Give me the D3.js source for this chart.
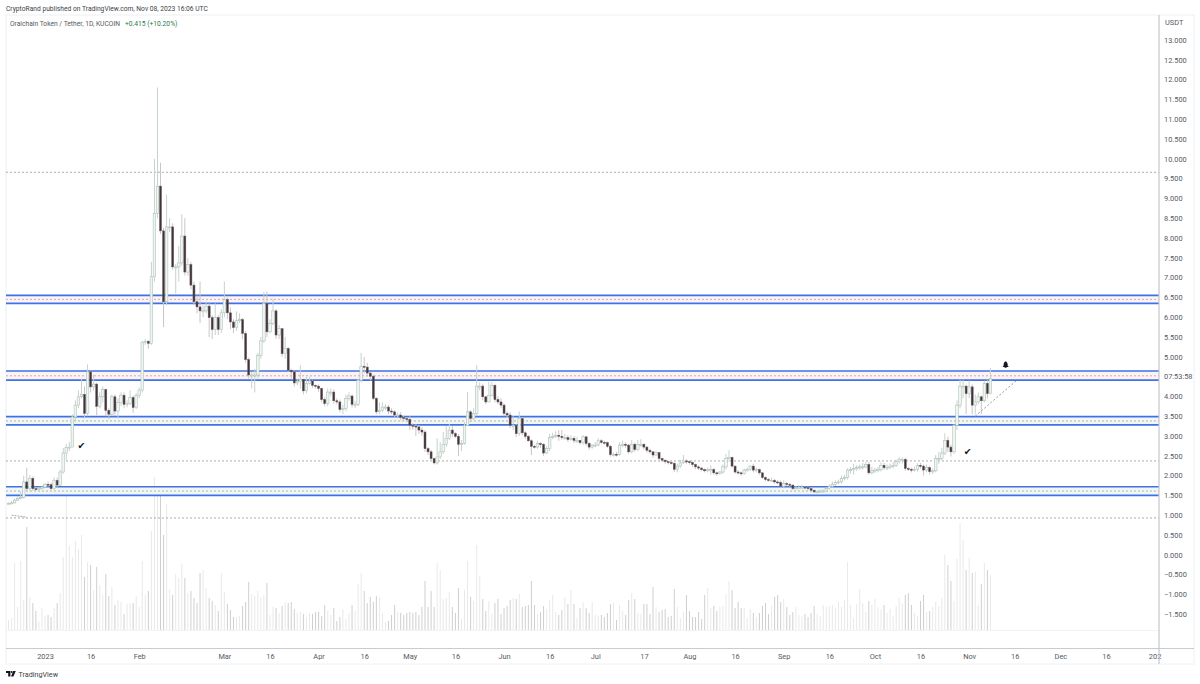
<!DOCTYPE html>
<html>
<head>
<meta charset="utf-8">
<style>
  body { margin: 0; background: #fff; }
  text { font-family: Roboto, sans-serif; }
</style>
<script src="https://cdn.jsdelivr.net/npm/d3@7"></script>
</head>
<body>
<div id="chart"></div>
<script>
// Daily candles, first one is 20 Dec 2022
var firstDay = Date.UTC(2022, 11, 20);

var closes = [
  1.30,1.31,1.38,1.42,1.45,1.84,1.67,1.93,1.67,1.66,
  1.67,1.71,1.78,1.77,1.67,1.88,1.76,2.09,2.57,2.71,
  2.72,3.48,3.78,3.99,4.05,3.57,4.62,4.24,4.31,3.75,
  3.99,4.17,3.65,3.55,3.99,3.63,3.84,4.03,3.80,3.82,
  3.97,3.72,4.03,4.16,5.37,5.39,5.34,7.02,8.62,9.31,
  8.18,6.39,8.28,8.28,7.27,7.27,7.37,8.05,7.14,7.33,
  6.81,6.39,6.26,6.16,6.16,6.28,5.99,5.69,5.99,5.69,
  6.11,6.45,6.11,5.88,5.74,5.91,5.94,5.59,4.93,4.54,
  4.54,4.54,5.04,5.40,6.35,5.63,5.84,6.16,5.55,5.71,
  5.08,5.21,4.66,4.62,4.34,4.37,4.43,4.14,4.33,4.39,
  4.28,4.26,4.20,3.92,3.82,4.11,4.11,3.89,3.86,3.67,
  3.69,3.95,4.01,3.80,3.80,4.41,4.76,4.74,4.59,4.51,
  3.95,3.61,3.65,3.73,3.73,3.63,3.61,3.53,3.53,3.47,
  3.44,3.42,3.27,3.25,3.23,3.15,3.10,2.68,2.60,2.43,
  2.32,2.47,2.60,2.79,2.94,3.15,3.06,2.99,2.79,2.81,
  3.27,3.61,3.44,3.57,4.26,4.26,3.99,3.86,4.03,4.28,
  3.92,3.86,3.78,3.57,3.53,3.27,3.27,3.06,3.44,3.08,
  2.99,2.88,2.74,2.72,2.81,2.79,2.57,2.68,2.96,2.99,
  3.02,2.99,2.96,2.96,2.91,2.94,2.89,2.89,2.83,2.98,
  2.81,2.72,2.77,2.77,2.88,2.84,2.83,2.74,2.53,2.54,
  2.53,2.77,2.79,2.77,2.60,2.79,2.66,2.79,2.79,2.72,
  2.64,2.60,2.52,2.58,2.43,2.39,2.35,2.33,2.31,2.16,
  2.24,2.32,2.37,2.35,2.33,2.28,2.22,2.19,2.15,2.12,
  2.15,2.15,2.07,2.05,2.09,2.22,2.43,2.46,2.24,2.09,
  2.07,2.05,2.14,2.15,2.24,2.14,2.15,2.07,1.95,1.90,
  1.88,1.88,1.84,1.83,1.73,1.80,1.78,1.76,1.67,1.69,
  1.71,1.71,1.70,1.67,1.63,1.59,1.59,1.61,1.61,1.67,
  1.73,1.78,1.82,1.84,1.93,1.95,2.14,2.15,2.18,2.20,
  2.22,2.22,2.28,2.07,2.12,2.14,2.15,2.26,2.20,2.20,
  2.24,2.26,2.35,2.41,2.41,2.18,2.16,2.14,2.15,2.26,
  2.24,2.14,2.20,2.10,2.12,2.43,2.43,2.57,2.89,2.72,
  2.60,3.27,3.78,4.26,4.26,4.07,4.24,3.78,3.86,3.99,
  3.89,4.33,4.07,4.45
];

var highs = [
  1.33,1.36,1.42,1.47,1.60,2.00,2.20,2.02,1.98,1.72,
  1.72,1.75,1.82,1.85,1.82,1.95,1.95,2.15,2.70,2.80,
  2.85,3.55,3.90,4.15,4.45,4.25,4.81,4.65,4.55,4.35,
  4.10,4.25,4.20,3.70,4.05,4.05,3.95,4.10,4.10,3.90,
  4.15,4.02,4.08,4.22,5.40,5.45,5.42,7.40,10.0,11.8,
  9.90,8.25,9.10,8.50,8.37,7.35,7.80,8.60,8.50,7.50,
  7.40,6.90,6.55,6.90,6.30,6.40,6.35,6.05,6.35,6.05,
  6.20,6.90,6.50,6.25,5.95,6.15,6.10,5.98,5.65,4.98,
  4.62,4.70,5.10,5.50,6.64,6.65,5.95,6.47,6.20,5.80,
  5.60,5.50,5.25,4.70,4.65,4.45,4.79,4.45,4.49,4.50,
  4.42,4.30,4.30,4.22,3.98,4.20,4.20,4.18,3.95,3.92,
  3.78,4.05,4.10,4.05,3.88,4.45,5.10,5.00,4.85,4.62,
  4.55,3.98,3.85,3.85,3.80,3.78,3.70,3.65,3.60,3.60,
  3.52,3.48,3.50,3.32,3.30,3.28,3.22,3.15,2.72,2.65,
  2.45,2.94,2.85,3.10,3.25,3.30,3.25,3.10,3.05,2.90,
  3.35,4.11,3.65,3.70,4.79,4.35,4.32,4.00,4.37,4.37,
  4.32,4.00,3.95,3.82,3.62,3.60,3.50,3.30,3.62,3.48,
  3.12,3.02,2.92,2.78,2.88,2.85,2.82,2.75,3.05,3.08,
  3.12,3.15,3.15,3.05,3.02,3.02,3.00,2.98,2.90,3.02,
  2.98,2.85,2.80,2.84,2.94,2.92,2.88,2.86,2.78,2.58,
  2.60,2.85,2.88,2.84,2.80,2.90,2.84,2.90,2.92,2.82,
  2.75,2.68,2.62,2.62,2.60,2.46,2.40,2.38,2.36,2.34,
  2.30,2.40,2.52,2.42,2.38,2.36,2.30,2.26,2.22,2.18,
  2.20,2.26,2.20,2.10,2.12,2.28,2.55,2.64,2.48,2.26,
  2.14,2.10,2.18,2.20,2.26,2.30,2.20,2.18,2.08,1.98,
  1.94,1.95,1.92,1.88,1.88,1.88,1.84,1.82,1.78,1.74,
  1.76,1.76,1.74,1.73,1.70,1.65,1.62,1.64,1.65,1.70,
  1.78,1.85,1.88,1.90,2.00,2.02,2.18,2.22,2.30,2.26,
  2.28,2.32,2.35,2.35,2.22,2.20,2.22,2.34,2.32,2.28,
  2.30,2.34,2.40,2.47,2.46,2.45,2.22,2.20,2.22,2.32,
  2.32,2.28,2.28,2.25,2.18,2.52,2.60,2.70,3.07,2.98,
  2.78,3.30,3.90,4.42,4.42,4.30,4.40,4.30,4.05,4.10,
  4.02,4.40,4.42,4.71
];

var lows = [
  1.28,1.28,1.30,1.36,1.40,1.42,1.62,1.62,1.62,1.62,
  1.62,1.64,1.68,1.72,1.64,1.64,1.70,1.74,2.05,2.40,
  2.62,2.72,3.40,3.70,3.95,3.45,3.50,4.10,4.15,3.53,
  3.70,3.85,3.50,3.42,3.50,3.50,3.44,3.75,3.70,3.72,
  3.78,3.58,3.68,3.95,4.10,5.30,5.20,5.30,6.90,8.50,
  8.10,5.75,6.30,8.15,7.20,6.60,6.90,7.30,7.05,7.05,
  6.70,6.30,6.10,5.85,6.00,6.10,5.50,5.45,5.55,5.55,
  5.60,6.00,5.95,5.70,5.60,5.65,5.85,5.45,4.85,4.45,
  4.20,4.10,4.45,4.95,5.35,5.50,5.60,5.80,5.45,5.45,
  5.00,4.95,4.62,4.45,4.25,4.28,4.20,4.05,4.08,4.30,
  4.22,4.20,4.12,3.85,3.75,3.75,4.00,3.82,3.80,3.60,
  3.55,3.62,3.90,3.72,3.70,3.75,4.35,4.60,4.50,4.40,
  3.90,3.55,3.55,3.60,3.65,3.55,3.55,3.48,3.48,3.40,
  3.38,3.35,3.15,3.15,3.00,3.05,3.00,2.60,2.52,2.38,
  2.28,2.28,2.42,2.55,2.72,2.90,2.98,2.95,2.49,2.62,
  2.78,3.25,3.35,3.40,3.50,4.15,3.90,3.80,3.95,4.00,
  3.85,3.80,3.70,3.50,3.45,3.20,3.15,2.97,3.00,3.02,
  2.92,2.85,2.52,2.68,2.68,2.70,2.50,2.55,2.62,2.92,
  2.95,2.88,2.90,2.90,2.85,2.88,2.82,2.82,2.78,2.78,
  2.75,2.65,2.68,2.72,2.74,2.80,2.78,2.70,2.48,2.48,
  2.48,2.50,2.72,2.70,2.55,2.56,2.60,2.62,2.72,2.66,
  2.58,2.55,2.45,2.50,2.38,2.34,2.30,2.28,2.28,2.09,
  2.08,2.20,2.30,2.30,2.28,2.22,2.16,2.14,2.11,2.08,
  2.08,2.02,2.02,2.00,2.02,2.05,2.16,2.35,2.20,2.05,
  2.03,2.00,2.02,2.10,2.12,2.08,2.08,2.02,1.92,1.86,
  1.85,1.84,1.80,1.78,1.70,1.70,1.74,1.72,1.64,1.65,
  1.66,1.67,1.66,1.64,1.60,1.56,1.56,1.57,1.58,1.58,
  1.65,1.70,1.74,1.78,1.80,1.88,1.90,2.05,2.02,2.12,
  2.14,2.16,2.18,2.02,2.02,2.06,2.08,2.10,2.14,2.14,
  2.16,2.18,2.22,2.30,2.30,2.12,2.12,2.08,2.10,2.10,
  2.18,2.00,2.08,2.03,2.04,2.08,2.30,2.38,2.52,2.60,
  2.48,2.55,3.15,3.70,3.95,3.55,3.95,3.55,3.55,3.80,
  3.55,3.85,3.95,4.05
];

var volumes = [
  10,12,67,23,69,30,103,33,27,19,
  9,22,14,15,13,22,27,37,73,135,
  84,73,89,81,95,53,68,65,40,63,
  45,35,56,34,43,25,30,28,16,26,
  27,27,34,23,69,35,39,99,153,140,
  135,95,126,41,35,56,52,66,52,37,
  39,32,27,57,60,42,32,29,25,19,
  57,38,26,20,13,13,14,24,28,48,
  36,34,39,33,35,47,15,23,22,17,
  24,28,27,28,21,17,18,16,13,17,
  16,18,18,14,25,19,15,22,9,13,
  21,11,17,25,19,46,57,39,27,33,
  28,34,33,17,8,9,15,25,18,17,
  15,17,18,17,18,15,23,49,23,39,
  23,67,60,31,32,38,23,17,42,11,
  40,69,33,29,85,54,31,19,29,16,
  27,31,16,22,24,30,32,31,36,23,
  24,25,49,25,16,18,24,21,30,35,
  18,15,20,33,26,40,26,12,22,28,
  22,17,28,15,14,15,13,17,26,27,
  10,25,19,15,30,37,31,17,16,26,
  26,16,43,23,18,20,21,13,14,41,
  23,12,18,35,19,13,13,18,11,35,
  42,22,24,19,23,24,36,49,40,22,
  28,22,22,12,21,17,13,17,24,27,
  16,24,33,35,28,31,23,15,18,23,
  15,14,16,13,17,24,16,14,25,23,
  24,25,22,28,23,30,68,25,12,26,
  41,27,18,29,25,31,23,21,25,17,
  21,14,24,32,27,35,37,25,17,14,
  29,35,18,19,23,28,24,32,75,65,
  49,29,71,107,90,60,72,57,58,25,
  46,67,60,55
];

// Support and resistance levels
var blueLevels = [6.55, 6.35, 4.64, 4.41, 3.49, 3.28, 1.72, 1.50];
var bandTops = [6.55, 4.64, 3.49, 1.72];
var bandBottoms = [6.35, 4.41, 3.28, 1.50];
var bandColors = ["#fbf3f4", "#fbf3f4", "#f2f6f4", "#f2f6f4"];
var dottedLevels = [9.66, 6.45, 4.52, 3.38, 2.37, 1.61, 0.93];
var dottedColors = ["#aaaaaa", "#d4a9ad", "#d4a9ad", "#a6b8ae", "#aaaaaa", "#a6b8ae", "#aaaaaa"];

// Axis ticks
var priceTicks = [13, 12.5, 12, 11.5, 11, 10.5, 10, 9.5, 9, 8.5, 8, 7.5, 7, 6.5, 6, 5.5, 5, 4, 3.5, 3, 2.5, 2, 1.5, 1, 0.5, 0, -0.5, -1, -1.5];
var dateTicks = [
  [2023,0,1],[2023,0,16],[2023,1,1],[2023,2,1],[2023,2,16],[2023,3,1],[2023,3,16],[2023,4,1],[2023,4,16],
  [2023,5,1],[2023,5,16],[2023,6,1],[2023,6,17],[2023,7,1],[2023,7,16],[2023,8,1],[2023,8,16],[2023,9,1],
  [2023,9,16],[2023,10,1],[2023,10,16],[2023,11,1],[2023,11,16],[2024,0,1]
];
var dateLabels = ["2023","16","Feb","Mar","16","Apr","16","May","16","Jun","16","Jul","17","Aug","16","Sep","16","Oct","16","Nov","16","Dec","16","202"];

// Drawings on the chart: day index and price
var trendDays = [318, 332];
var trendPrices = [3.50, 4.43];
var stubDays = [1, 6];
var stubPrices = [1.0, 0.95];
var checkDays = [24, 315.5];
var checkPrices = [2.75, 2.60];
var bellDays = [328];
var bellPrices = [4.80];

// Set up chart
var svgWidth = 1200;
var svgHeight = 684;
var plot = { left: 6, right: 1159, top: 15, bottom: 648, outer: 1194, foot: 664, volBase: 630 };

var svg = d3.select("#chart")
  .append("svg")
  .attr("width", svgWidth)
  .attr("height", svgHeight);

svg.append("defs").append("clipPath")
  .attr("id", "plotClip")
  .append("rect")
  .attr("x", plot.left)
  .attr("y", plot.top)
  .attr("width", plot.right - plot.left)
  .attr("height", plot.foot - plot.top);

// Step 1: candle table
function dayOf(i) { return new Date(firstDay + i * 864e5); }

var candles = closes.map(function(c, i) {
  return {
    date: dayOf(i),
    open: i > 0 ? closes[i - 1] : 1.28,
    high: highs[i],
    low: lows[i],
    close: c,
    volume: volumes[i]
  };
});

// Step 2: scales
var xScale = d3.scaleUtc()
  .domain([new Date(Date.UTC(2023, 0, 1)), new Date(Date.UTC(2024, 0, 1))])
  .range([45, 1154.6]);

var yScale = d3.scaleLinear()
  .domain([-1.5, 13])
  .range([614.2, 40]);

var volScale = d3.scaleLinear()
  .domain([0, 160])
  .range([plot.volBase, plot.volBase - 160]);

// Step 3: frame
var frame = svg.append("g");
frame.append("rect")
  .attr("x", plot.left)
  .attr("y", plot.top)
  .attr("width", plot.outer - plot.left)
  .attr("height", plot.foot - plot.top)
  .attr("fill", "none")
  .attr("stroke", "#eef0f4");

frame.append("line")
  .attr("x1", plot.left).attr("x2", plot.right)
  .attr("y1", plot.volBase + 0.5).attr("y2", plot.volBase + 0.5)
  .attr("stroke", "#f2f3f6");

var chartGroup = svg.append("g").attr("clip-path", "url(#plotClip)");

// Step 4: volume bars
chartGroup.append("g").selectAll("rect")
  .data(candles)
  .enter()
  .append("rect")
  .attr("x", d => xScale(d.date) - 0.5)
  .attr("y", d => volScale(d.volume))
  .attr("width", 1)
  .attr("height", d => volScale(0) - volScale(d.volume))
  .attr("fill", d => d.close >= d.open ? "#e9e9e9" : "#cfcfcf");

// Step 5: bands and levels
chartGroup.append("g").selectAll("rect")
  .data(bandTops)
  .enter()
  .append("rect")
  .attr("x", plot.left)
  .attr("width", plot.right - plot.left)
  .attr("y", d => yScale(d))
  .attr("height", (d, i) => yScale(bandBottoms[i]) - yScale(d))
  .attr("fill", (d, i) => bandColors[i]);

chartGroup.append("g").selectAll("line")
  .data(dottedLevels)
  .enter()
  .append("line")
  .attr("x1", plot.left)
  .attr("x2", plot.right)
  .attr("y1", d => yScale(d))
  .attr("y2", d => yScale(d))
  .attr("stroke", (d, i) => dottedColors[i])
  .attr("stroke-width", 1)
  .attr("stroke-dasharray", "2,2");

chartGroup.append("g").selectAll("line")
  .data(blueLevels)
  .enter()
  .append("line")
  .attr("x1", plot.left)
  .attr("x2", plot.right)
  .attr("y1", d => yScale(d))
  .attr("y2", d => yScale(d))
  .attr("stroke", "#3f72e6")
  .attr("stroke-width", 1.6);

// Step 6: candles
chartGroup.append("g").selectAll("line")
  .data(candles)
  .enter()
  .append("line")
  .attr("x1", d => xScale(d.date))
  .attr("x2", d => xScale(d.date))
  .attr("y1", d => yScale(d.high))
  .attr("y2", d => yScale(d.low))
  .attr("stroke", d => d.close >= d.open ? "#c6d2cb" : "#cbc4c6")
  .attr("stroke-width", 1);

chartGroup.append("g").selectAll("rect")
  .data(candles)
  .enter()
  .append("rect")
  .attr("x", d => xScale(d.date) - (d.close >= d.open ? 1.3 : 1))
  .attr("width", d => d.close >= d.open ? 2.6 : 2)
  .attr("y", d => yScale(Math.max(d.open, d.close)))
  .attr("height", d => Math.max(1, Math.abs(yScale(d.open) - yScale(d.close))))
  .attr("fill", d => d.close >= d.open ? "#eff5f1" : "#40343b")
  .attr("stroke", d => d.close >= d.open ? "#a3b9ac" : "#6b5a60")
  .attr("stroke-width", 0.5);

// Step 7: drawings
var dashLine = d3.line()
  .x(d => xScale(dayOf(d[0])))
  .y(d => yScale(d[1]));

chartGroup.append("path")
  .attr("d", dashLine(d3.zip(trendDays, trendPrices)))
  .attr("fill", "none")
  .attr("stroke", "#9a9a9a")
  .attr("stroke-dasharray", "2,2");

chartGroup.append("path")
  .attr("d", dashLine(d3.zip(stubDays, stubPrices)))
  .attr("fill", "none")
  .attr("stroke", "#aaaaaa")
  .attr("stroke-dasharray", "2,1");

chartGroup.append("g").selectAll("text")
  .data(checkDays)
  .enter()
  .append("text")
  .attr("x", d => xScale(dayOf(d)))
  .attr("y", (d, i) => yScale(checkPrices[i]) + 3.5)
  .attr("text-anchor", "middle")
  .style("font-family", "'DejaVu Sans'")
  .style("font-size", "9.5px")
  .attr("fill", "#131722")
  .text("\u2714");

// bell marker
chartGroup.append("g").selectAll("path")
  .data(bellDays)
  .enter()
  .append("path")
  .attr("transform", (d, i) => `translate(${xScale(dayOf(d))}, ${yScale(bellPrices[i])})`)
  .attr("d", "M-0.7,-3.2 L0.7,-3.2 L1.9,-1.2 L2.1,1 L3.2,2.4 L-3.2,2.4 L-2.1,1 L-1.9,-1.2 Z M-1,2.6 H1 V3.4 H-1 Z")
  .attr("fill", "#131722");

// Step 8: axes
var rightAxis = d3.axisRight(yScale)
  .tickValues(priceTicks)
  .tickSize(0)
  .tickPadding(5)
  .tickFormat(d3.format(".3f"));

var yAxisGroup = svg.append("g")
  .attr("transform", `translate(${plot.right}, 0)`)
  .call(rightAxis);
yAxisGroup.select(".domain").remove();
yAxisGroup.selectAll("text")
  .style("font-family", "Roboto, sans-serif")
  .style("font-size", "7.4px")
  .attr("fill", "#555a63");

var bottomAxis = d3.axisBottom(xScale)
  .tickValues(dateTicks.map(d => new Date(Date.UTC(d[0], d[1], d[2]))))
  .tickSize(0)
  .tickPadding(6)
  .tickFormat((d, i) => dateLabels[i]);

var xAxisGroup = svg.append("g")
  .attr("transform", `translate(0, ${plot.bottom})`)
  .call(bottomAxis);
xAxisGroup.select(".domain").remove();
xAxisGroup.selectAll("text")
  .style("font-family", "Roboto, sans-serif")
  .style("font-size", "7.4px")
  .attr("fill", "#555a63");

frame.append("line")
  .attr("x1", plot.left).attr("x2", plot.outer)
  .attr("y1", plot.bottom + 0.5).attr("y2", plot.bottom + 0.5)
  .attr("stroke", "#c9cbd0");

svg.append("line")
  .attr("x1", plot.right).attr("x2", plot.right)
  .attr("y1", plot.top).attr("y2", plot.foot)
  .attr("stroke", "#c4c6cb")
  .attr("stroke-width", 1.2);

// Create labels
svg.append("text")
  .attr("x", plot.right + 5)
  .attr("y", yScale(4.5) + 2.6)
  .style("font-size", "7.4px")
  .attr("fill", "#555a63")
  .text("07:53:58");

svg.append("text")
  .attr("x", plot.right + 6)
  .attr("y", 25)
  .style("font-size", "7.4px")
  .attr("fill", "#555a63")
  .text("USDT");

svg.append("text")
  .attr("x", 6)
  .attr("y", 11)
  .style("font-size", "6.7px")
  .attr("fill", "#3c3f46")
  .text("CryptoRand published on TradingView.com, Nov 08, 2023 16:06 UTC");

var title = svg.append("text")
  .attr("x", 10)
  .attr("y", 26)
  .style("font-size", "6.7px")
  .attr("fill", "#555a63");
title.append("tspan").text("Oraichain Token / Tether, 1D, KUCOIN");
title.append("tspan").attr("dx", 5).attr("fill", "#1f7a50").text("+0.415 (+10.20%)");

// TradingView mark and name
var logo = svg.append("g").attr("transform", "translate(6, 671)");
logo.append("path")
  .attr("d", "M0,0 H4.4 V5.6 H2.2 V2 H0 Z M9.8,0 H7.2 L5,5.6 H7.4 Z")
  .attr("fill", "#131722");
logo.append("circle")
  .attr("cx", 5.6)
  .attr("cy", 1)
  .attr("r", 1)
  .attr("fill", "#131722");

svg.append("text")
  .attr("x", 18.5)
  .attr("y", 677)
  .style("font-size", "7.2px")
  .attr("fill", "#3c3f46")
  .text("TradingView");
</script>
</body>
</html>
